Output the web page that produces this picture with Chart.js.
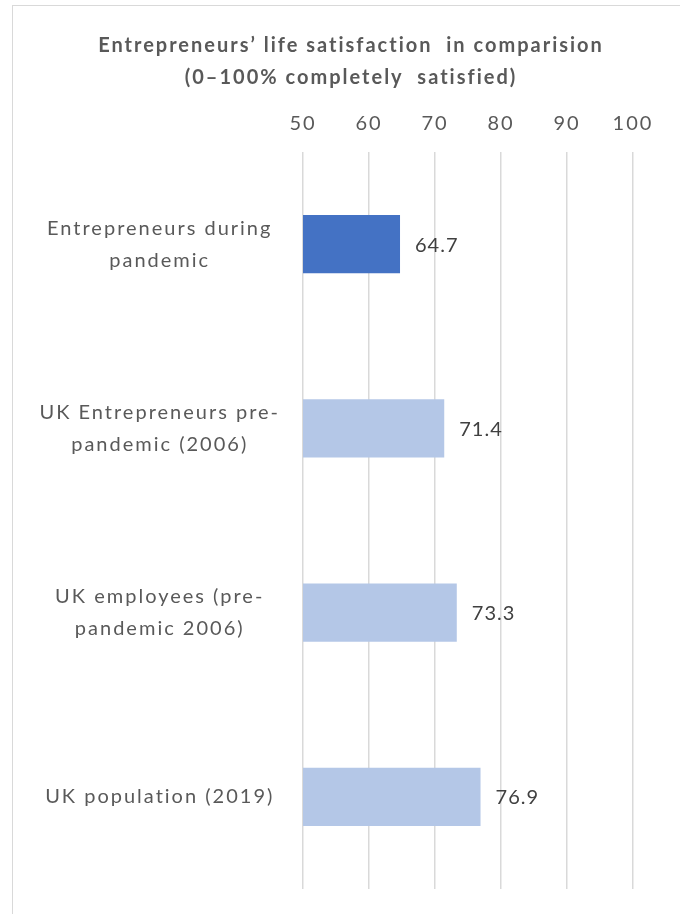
<!DOCTYPE html>
<html>
<head>
<meta charset="utf-8">
<script src="https://cdn.jsdelivr.net/npm/chart.js@4"></script>
<style>
  html, body { margin: 0; padding: 0; background: #fff; }
  #frame {
    position: absolute; left: 12px; top: 5px; width: 668px; height: 909px;
    border-left: 1px solid #d9d9d9; border-top: 1px solid #d9d9d9;
  }
  #wrap { position: absolute; left: 0; top: 0; width: 680px; height: 914px; }
</style>
</head>
<body>
<div id="frame"></div>
<div id="wrap"><canvas id="chart" width="680" height="914"></canvas></div>
<script>
const categories = [
  ['Entrepreneurs during', 'pandemic'],
  ['UK Entrepreneurs pre-', 'pandemic (2006)'],
  ['UK employees (pre-', 'pandemic 2006)'],
  'UK population (2019)'
];
const satisfaction = [64.7, 71.4, 73.3, 76.9];
const barColors = ['#4472C4', '#B4C7E7', '#B4C7E7', '#B4C7E7'];
const titleLines = ['Entrepreneurs\u2019 life satisfaction  in comparision', '(0\u2013100% completely  satisfied)'];

const FONT = 'Lato, "Open Sans", sans-serif';

// the original text is rendered with loose tracking
const tracking = {
  id: 'tracking',
  beforeLayout(chart) { chart.ctx.letterSpacing = '2px'; },
  beforeDraw(chart) { chart.ctx.letterSpacing = '2px'; }
};

// value labels to the right of each bar
const valueLabels = {
  id: 'valueLabels',
  afterDatasetsDraw(chart) {
    const ctx = chart.ctx;
    const meta = chart.getDatasetMeta(0);
    ctx.save();
    ctx.letterSpacing = '1px';
    ctx.font = '20px ' + FONT;
    ctx.fillStyle = '#404040';
    ctx.textAlign = 'left';
    ctx.textBaseline = 'middle';
    meta.data.forEach((bar, i) => {
      ctx.fillText(satisfaction[i].toFixed(1), bar.x + 15, bar.y + 1);
    });
    ctx.restore();
  }
};

const ctx = document.getElementById('chart').getContext('2d');
const chart = new Chart(ctx, {
  type: 'bar',
  data: {
    labels: categories,
    datasets: [{
      data: satisfaction,
      backgroundColor: barColors,
      borderWidth: 0,
      categoryPercentage: 1,
      barPercentage: 0.315
    }]
  },
  options: {
    indexAxis: 'y',
    responsive: false,
    animation: false,
    layout: { padding: { left: 22, right: 0, top: 0, bottom: 25 } },
    plugins: {
      legend: { display: false },
      tooltip: { enabled: false },
      title: {
        display: true,
        text: titleLines,
        color: '#595959',
        font: { family: FONT, size: 20, weight: 'bold', lineHeight: '32px' },
        padding: { top: 30, bottom: 0 }
      }
    },
    scales: {
      x: {
        position: 'top',
        min: 50,
        max: 100,
        ticks: {
          stepSize: 10,
          color: '#595959',
          font: { family: FONT, size: 20 },
          padding: 16
        },
        grid: { color: '#d9d9d9', lineWidth: 1.5, drawTicks: false },
        border: { display: false },
        afterFit(scale) {
          scale.height = 58;
          scale.paddingLeft = 0;
          scale.paddingRight = 47;
        }
      },
      y: {
        ticks: {
          color: '#595959',
          font: { family: FONT, size: 20, lineHeight: '32px' },
          crossAlign: 'center',
          padding: 23
        },
        grid: { display: false, drawTicks: false },
        border: { display: false },
        afterFit(scale) {
          scale.width = 281;
          scale.paddingTop = 0;
          scale.paddingBottom = 0;
        }
      }
    }
  },
  plugins: [tracking, valueLabels]
});
</script>
</body>
</html>
